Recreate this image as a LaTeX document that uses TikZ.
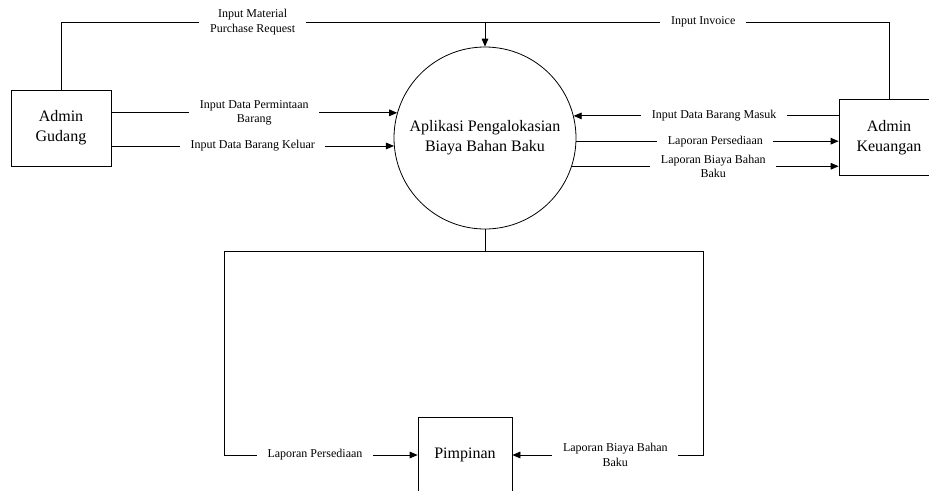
\documentclass[tikz,border=0pt]{standalone}
\usepackage{fontspec}
\setmainfont{Liberation Serif}
\usetikzlibrary{arrows.meta}
\tikzset{
  entity/.style={draw, align=center, minimum width=75pt, minimum height=57pt,
    font=\fontsize{12}{15}\selectfont},
  process/.style={draw, circle, align=center, minimum size=136.5pt, inner sep=0pt,
    font=\fontsize{12}{15}\selectfont},
  flow/.style={-{Triangle[length=6pt,width=5pt]}},
  lbl/.style={fill=white, align=center, inner xsep=8pt, inner ysep=1pt,
    font=\fontsize{9}{11}\selectfont},
}
\begin{document}
\begin{tikzpicture}[x=0.75pt, y=-0.75pt, line width=0.6pt]
  \useasboundingbox (0,0) rectangle (929,490);
  \clip (0,0) rectangle (929,490);
  % entities and the process
  \node[process] (app) at (485,138) {Aplikasi Pengalokasian\\Biaya Bahan Baku};
  \node[entity] (gudang) at (61,128) {Admin\\Gudang};
  \node[entity] (keuangan) at (889,137.5) {Admin\\Keuangan};
  \node[entity, minimum width=70.5pt] (pimpinan) at (465,455) {Pimpinan};
  \coordinate (join) at (app.north |- 0,22);
  \coordinate (split) at (app.south |- 0,251);
  \coordinate (lcorner) at (224,251);
  \coordinate (rcorner) at (703,251);

  % top flows
  \draw (gudang.north) |- (join)
    node[lbl, pos=0.726] {Input Material\\Purchase Request};
  \draw (keuangan.north) |- (join)
    node[lbl, pos=0.73] {Input Invoice};
  \draw[flow] (join) -- (app.north);

  % admin gudang
  \draw[flow] (gudang.east |- app.164) -- (app.164)
    node[lbl, midway] {Input Data Permintaan\\Barang};
  \draw[flow] (gudang.east |- app.185) -- (app.185)
    node[lbl, midway] {Input Data Barang Keluar};

  % admin keuangan
  \draw[flow] (keuangan.west |- app.14) -- (app.14)
    node[lbl, pos=0.47] {Input Data Barang Masuk};
  \draw[flow] (app.-2) -- (keuangan.west |- app.-2)
    node[lbl, pos=0.53] {Laporan Persediaan};
  \draw[flow] (app.-18) -- (keuangan.west |- app.-18)
    node[lbl, pos=0.53] {Laporan Biaya Bahan\\Baku};

  % pimpinan
  \draw (app.south) -- (split);
  \draw[flow] (split) -- (lcorner) |- (pimpinan.west)
    node[lbl, pos=0.735] {Laporan Persediaan};
  \draw[flow] (split) -- (rcorner) |- (pimpinan.east)
    node[lbl, pos=0.73] {Laporan Biaya Bahan\\Baku};
\end{tikzpicture}
\end{document}
